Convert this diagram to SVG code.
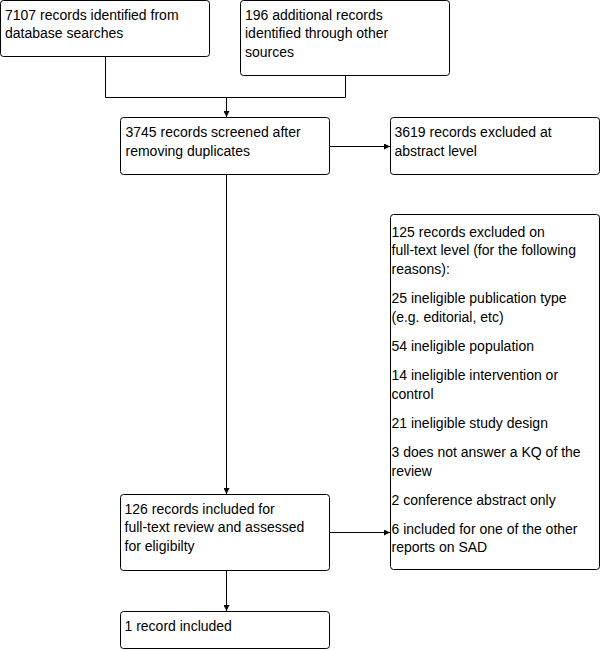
<svg xmlns="http://www.w3.org/2000/svg" width="602" height="650" viewBox="0 0 602 650">
<style>
.box{fill:#fff;stroke:#000;stroke-width:1}
text{font-family:"Liberation Sans",Arial,sans-serif;font-size:14px;fill:#000}
.con{fill:none;stroke:#000;stroke-width:1}
</style>
<defs>
<marker id="arr" markerUnits="userSpaceOnUse" markerWidth="6" markerHeight="6" refX="6" refY="3" orient="auto">
<path d="M0,0 L6,3 L0,6 z" fill="#000"/>
</marker>
</defs>
<rect width="602" height="650" fill="#fff"/>
<g id="connectors">
<path class="con" d="M105.5 57 V97.5 H345.5 V76"/>
<path class="con" d="M226.5 97.5 V117" marker-end="url(#arr)"/>
<path class="con" d="M329.5 146.5 H390" marker-end="url(#arr)"/>
<path class="con" d="M226.5 174.5 V494" marker-end="url(#arr)"/>
<path class="con" d="M329.5 532.5 H390" marker-end="url(#arr)"/>
<path class="con" d="M226.5 570.5 V611" marker-end="url(#arr)"/>
</g>
<g id="n1">
<rect class="box" x="0.5" y="0.5" width="209" height="56" rx="3"/>
<text x="5" y="19.5">7107 records identified from</text>
<text x="5" y="38.3">database searches</text>
</g>
<g id="n2">
<rect class="box" x="240.5" y="0.5" width="209" height="75" rx="3"/>
<text x="245" y="19.5">196 additional records</text>
<text x="245" y="38.3">identified through other</text>
<text x="245" y="57.1">sources</text>
</g>
<g id="n3">
<rect class="box" x="120.5" y="117.5" width="209" height="57" rx="3"/>
<text x="125.5" y="136.7">3745 records screened after</text>
<text x="125.5" y="155.5">removing duplicates</text>
</g>
<g id="n4">
<rect class="box" x="390.5" y="117.5" width="209" height="57" rx="3"/>
<text x="394.5" y="136.7">3619 records excluded at</text>
<text x="394.5" y="155.5">abstract level</text>
</g>
<g id="n5">
<rect class="box" x="390.5" y="214.5" width="209" height="355" rx="3"/>
<text x="391.5" y="236.5">125 records excluded on</text>
<text x="391.5" y="255.3">full-text level (for the following</text>
<text x="391.5" y="274.1">reasons):</text>
<text x="391.5" y="303.1">25 ineligible publication type</text>
<text x="391.5" y="321.9">(e.g. editorial, etc)</text>
<text x="391.5" y="350.9">54 ineligible population</text>
<text x="391.5" y="379.9">14 ineligible intervention or</text>
<text x="391.5" y="398.7">control</text>
<text x="391.5" y="427.7">21 ineligible study design</text>
<text x="391.5" y="456.7">3 does not answer a KQ of the</text>
<text x="391.5" y="475.5">review</text>
<text x="391.5" y="504.5">2 conference abstract only</text>
<text x="391.5" y="533.5">6 included for one of the other</text>
<text x="391.5" y="552.3">reports on SAD</text>
</g>
<g id="n6">
<rect class="box" x="120.5" y="494.5" width="209" height="76" rx="3"/>
<text x="124.5" y="513.5">126 records included for</text>
<text x="124.5" y="532.3">full-text review and assessed</text>
<text x="124.5" y="551.1">for eligibilty</text>
</g>
<g id="n7">
<rect class="box" x="120.5" y="611.5" width="209" height="37" rx="3"/>
<text x="124.5" y="630.5">1 record included</text>
</g>
</svg>
